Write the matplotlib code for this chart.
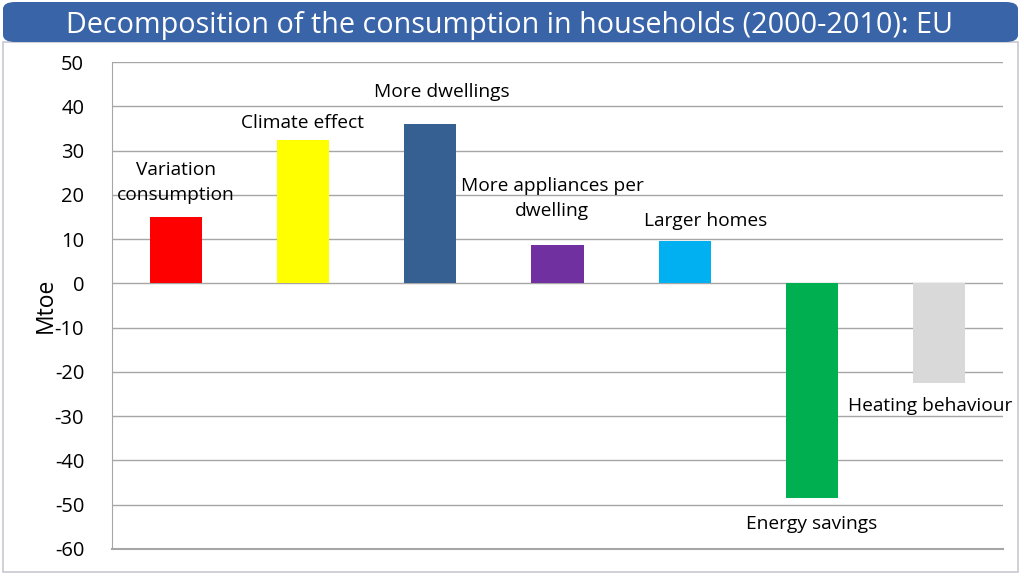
import matplotlib.pyplot as plt
from matplotlib.patches import FancyBboxPatch, Rectangle

plt.rcParams['font.family'] = ['Open Sans', 'DejaVu Sans']
plt.rcParams['axes.unicode_minus'] = False

categories = ['Variation\nconsumption', 'Climate effect', 'More dwellings',
              'More appliances per\ndwelling', 'Larger homes', 'Energy savings',
              'Heating behaviour']
values = [15.1, 32.3, 35.9, 8.6, 9.5, -48.5, -22.4]
colors = ['#FF0000', '#FFFF00', '#376092', '#7030A0', '#00B0F0', '#00B050', '#D9D9D9']

# label placement (data units) relative to the bar end
label_dx = [0, 0, 0.09, -0.04, 0.16, 0, -0.07]
label_dy = [7.7, 3.9, 7.3, 10.6, 4.5, -5.9, -5.3]

fig = plt.figure(figsize=(10.24, 5.79), dpi=100)
W, H = 1024, 579

# outer frame and title bar
fig.patches.append(Rectangle((3 / W, 7 / H), 1015 / W, 530 / H, transform=fig.transFigure,
                             facecolor='white', edgecolor='#C8C8D0', linewidth=1.2, zorder=-5))
fig.patches.append(FancyBboxPatch((3 / W, 537 / H), 1015 / W, 40 / H, transform=fig.transFigure,
                                  boxstyle='round,pad=0,rounding_size=0.012',
                                  facecolor='#3A64A8', edgecolor='none', zorder=-5))
fig.text(0.498, 554 / H, 'Decomposition of the consumption in households (2000-2010): EU',
         color='white', fontsize=20.7, ha='center', va='center')

ax = fig.add_axes([112 / W, 30 / H, 891 / W, 487 / H])
ax.patch.set_alpha(0)
x = range(len(categories))
ax.bar(x, values, width=0.41, color=colors, zorder=3)

for i, (cat, v) in enumerate(zip(categories, values)):
    ax.text(i + label_dx[i], v + label_dy[i], cat, ha='center', va='center',
            fontsize=13.8, linespacing=1.5, zorder=4)

ax.set_xlim(-0.5, len(categories) - 0.5)
ax.set_ylim(-60, 50)
ax.set_yticks(range(-60, 51, 10))
ax.set_xticks([])
ax.tick_params(axis='y', length=0, labelsize=14.5, pad=20)
ax.grid(axis='y', color='#A6A6A6', linewidth=1, zorder=0)
ax.axhline(-60, color='#A6A6A6', linewidth=1.5, zorder=1, clip_on=False)
for s in ['top', 'right', 'bottom']:
    ax.spines[s].set_visible(False)
ax.spines['left'].set_color('#A6A6A6')
ax.set_ylabel('Mtoe', fontsize=16.5, labelpad=-2)

fig.savefig('out.png', dpi=100)
